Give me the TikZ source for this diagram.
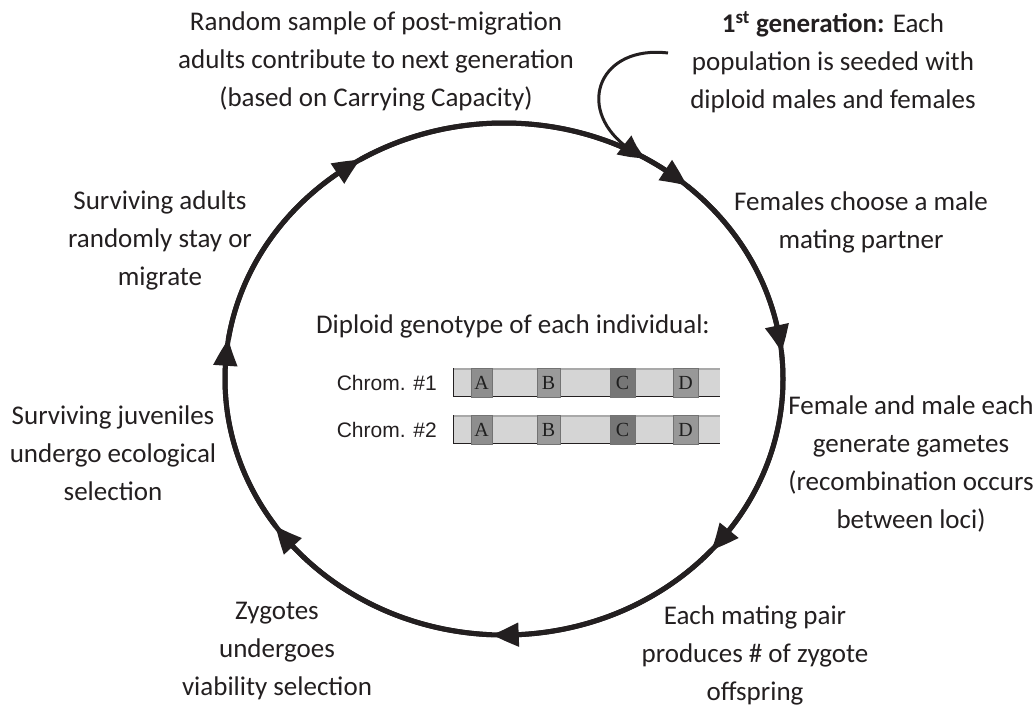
\documentclass[tikz,border=0pt]{standalone}
\usepackage{fontspec}
\setmainfont{Carlito}
\newfontfamily\arialf{Liberation Sans}
\newfontfamily\timesf{Liberation Serif}
\usetikzlibrary{arrows.meta,bending,calc}
\definecolor{ink}{HTML}{231F20}
\definecolor{barfill}{HTML}{D5D5D5}
\definecolor{bartop}{HTML}{A9A9A9}
\definecolor{gA}{HTML}{8E8E8E}
\definecolor{gB}{HTML}{9A9A9A}
\definecolor{gC}{HTML}{767676}
\definecolor{gD}{HTML}{989898}
\begin{document}
\begin{tikzpicture}[x=1pt,y=-1pt,
  lbl/.style={font=\fontsize{27}{38}\selectfont, text=ink, align=center, inner sep=0pt},
  chl/.style={font=\arialf\fontsize{21}{24}\selectfont, text=ink, anchor=east, inner sep=0pt},
  ring/.style={draw=ink, line width=5pt},
  cyc/.style={draw=ink, line width=5pt, -{Triangle[length=27pt,width=23pt,bend]}},
  startarr/.style={draw=ink, line width=3pt, -{Triangle[length=27pt,width=23pt,bend]}},
  locus/.style={draw=black!55, line width=0.9pt, minimum height=29pt, inner sep=0pt,
    font=\timesf\fontsize{20}{22}\selectfont, text=black!88},
  bar/.style={fill=barfill},
]
\useasboundingbox (0,0) rectangle (1035,707);

% texts
\node[lbl] (tl) at (376,61) {Random sample of post-migration\\adults contribute to next generation\\(based on Carrying Capacity)};
\node[lbl] (tr) at (833,62) {\textbf{1\textsuperscript{st} generation:} Each\\population is seeded with\\diploid males and females};
\node[lbl] (fem) at (861,222) {Females choose a male\\mating partner};
\node[lbl] (gam) at (911,464) {Female and male each\\generate gametes\\(recombination occurs\\between loci)};
\node[lbl] (pair) at (755,655) {Each mating pair\\produces \# of zygote\\offspring};
\node[lbl] (zyg) at (277,651) {Zygotes\\undergoes\\viability selection};
\node[lbl] (juv) at (113,453) {Surviving juveniles\\undergo ecological\\selection};
\node[lbl] (adu) at (160,240) {Surviving adults\\randomly stay or\\migrate};
\node[lbl] (dip) at (513,326) {Diploid genotype of each individual:};

% cycle
\coordinate (C) at (504,379);
\foreach \n/\a in {p1/121,p2/49,p3/6,p4/-42,p5/-92.5,p6/-145,p7/171,g/59.5}
  \coordinate (\n) at ($(C)+(\a:279pt and 256pt)$);
\draw[ring] (C) ellipse[x radius=279pt, y radius=256pt];
\draw[cyc] (p1) arc[start angle=121, end angle=49, x radius=279pt, y radius=256pt];
\draw[cyc] (p2) arc[start angle=49, end angle=6, x radius=279pt, y radius=256pt];
\draw[cyc] (p3) arc[start angle=6, end angle=-42, x radius=279pt, y radius=256pt];
\draw[cyc] (p4) arc[start angle=-42, end angle=-92.5, x radius=279pt, y radius=256pt];
\draw[cyc] (p5) arc[start angle=-92.5, end angle=-145, x radius=279pt, y radius=256pt];
\draw[cyc] (p6) arc[start angle=-145, end angle=-189, x radius=279pt, y radius=256pt];
\draw[cyc] (p7) arc[start angle=171, end angle=121, x radius=279pt, y radius=256pt];

% start arrow
\coordinate (s) at (668,53);
\draw[startarr] (s) .. controls (592,44) and (570,122) .. (g);

% chromosomes
\node[chl] (c1) at (437,383) {Chrom. \#1};
\node[chl] (c2) at (437,430) {Chrom. \#2};
\foreach \k/\yt in {1/368,2/415}{
  \fill[bar] (453,\yt) rectangle (720,\yt+29);
  \draw[bartop, line width=1.5pt] (453,\yt+0.75) -- (720,\yt+0.75);
  \draw[ink, line width=1.4pt] (453,\yt+28.3) -- (720,\yt+28.3);
  \draw[ink, line width=1.4pt] (453.7,\yt) -- (453.7,\yt+29);
  \node[locus, fill=gA, minimum width=21pt] (A\k) at (481.5,\yt+14.5) {\raisebox{-2pt}{A}};
  \node[locus, fill=gB, minimum width=23pt] (B\k) at (548.5,\yt+14.5) {\raisebox{-2pt}{B}};
  \node[locus, fill=gC, minimum width=25pt] (Cc\k) at (622.5,\yt+14.5) {\raisebox{-2pt}{C}};
  \node[locus, fill=gD, minimum width=25pt] (D\k) at (685.5,\yt+14.5) {\raisebox{-2pt}{D}};
}
\end{tikzpicture}
\end{document}
